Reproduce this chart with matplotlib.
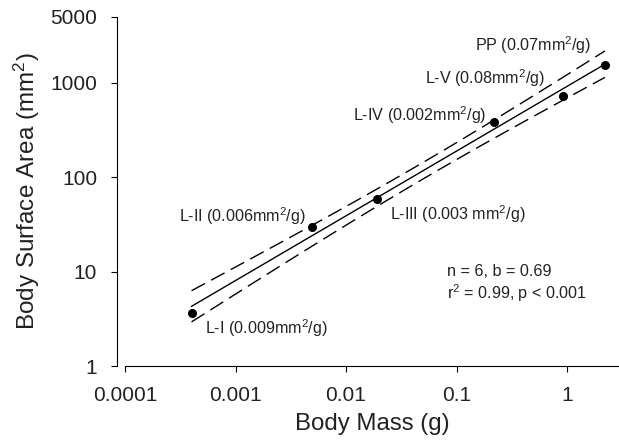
import numpy as np
import matplotlib.pyplot as plt
from matplotlib.ticker import FixedLocator, FixedFormatter, NullLocator

plt.rcParams['font.family'] = ['Liberation Sans', 'DejaVu Sans']
plt.rcParams['mathtext.fontset'] = 'custom'
plt.rcParams['mathtext.rm'] = 'Liberation Sans'
plt.rcParams['mathtext.it'] = 'Liberation Sans:italic'

# body mass (g) and body surface area (mm^2) per stage
stages = ["L-I", "L-II", "L-III", "L-IV", "L-V", "PP"]
mass = [0.0004, 0.0049, 0.019, 0.22, 0.91, 2.2]
area = [3.65, 29.4, 59.5, 385, 727, 1550]
ratios = ["0.009mm$^2$/g", "0.006mm$^2$/g", "0.003 mm$^2$/g",
          "0.002mm$^2$/g", "0.08mm$^2$/g", "0.07mm$^2$/g"]

# label anchor (mass, area) for each stage, left edge / vertical centre
label_pos = [(0.00053, 2.54), (0.00031, 38.5), (0.0249, 41),
             (0.0115, 457), (0.0516, 1130), (0.146, 2540)]

xt = [0.0001, 0.001, 0.01, 0.1, 1]
xt_labels = ["0.0001", "0.001", "0.01", "0.1", "1"]
yt = [1, 10, 100, 1000, 5000]
yt_labels = ["1", "10", "100", "1000", "5000"]

# log-log regression with 95% confidence band
lx, ly = np.log10(mass), np.log10(area)
n = len(lx)
b, a = np.polyfit(lx, ly, 1)
resid = ly - (a + b * lx)
s = np.sqrt(np.sum(resid ** 2) / (n - 2))
sxx = np.sum((lx - lx.mean()) ** 2)
t95 = 2.776
gx = np.linspace(lx.min(), lx.max(), 100)
gy = a + b * gx
half = t95 * s * np.sqrt(1 / n + (gx - lx.mean()) ** 2 / sxx)

fig = plt.figure(figsize=(6.19, 4.4), dpi=100)
ax = fig.add_axes([125 / 619, 74 / 440, 494 / 619, 349 / 440])

ax.plot(10 ** gx, 10 ** gy, color="black", lw=1.0)
ax.plot(10 ** gx, 10 ** (gy + half), color="black", lw=1.0, dashes=(11, 5))
ax.plot(10 ** gx, 10 ** (gy - half), color="black", lw=1.0, dashes=(11, 5))
ax.plot(mass, area, "o", color="black", ms=5.5)

for st, r, (px, py) in zip(stages, ratios, label_pos):
    ax.text(px, py, f"{st} ({r})", fontsize=11.6, va="center", ha="left",
            color="#222222")

ax.text(0.652, 0.235, "n = 6, b = 0.69\nr$^2$ = 0.99, p < 0.001",
        transform=ax.transAxes, fontsize=11.6, va="center", ha="left",
        linespacing=1.25, color="#222222")

ax.set_xscale("log")
ax.set_yscale("log")
ax.set_xlim(0.0001, 2.95)
ax.set_ylim(1, 5000)

ax.xaxis.set_major_locator(FixedLocator(xt))
ax.xaxis.set_major_formatter(FixedFormatter(xt_labels))
ax.xaxis.set_minor_locator(NullLocator())
ax.yaxis.set_major_locator(FixedLocator(yt))
ax.yaxis.set_major_formatter(FixedFormatter(yt_labels))
ax.yaxis.set_minor_locator(NullLocator())

for side in ("top", "right"):
    ax.spines[side].set_visible(False)
ax.spines["left"].set_position(("outward", 6))
ax.tick_params(direction="out", length=4.5, labelsize=15, labelcolor="#222222")
ax.tick_params(axis="x", pad=10)
ax.tick_params(axis="y", pad=9.5)

ax.set_xlabel("Body Mass (g)", fontsize=17.3, color="#222222")
ax.set_ylabel("Body Surface Area (mm$^2$)", fontsize=17.5, color="#222222")
ax.xaxis.set_label_coords(0.501, -0.135)
ax.yaxis.set_label_coords(-0.168, 0.5)

fig.savefig("out.png", dpi=100)
